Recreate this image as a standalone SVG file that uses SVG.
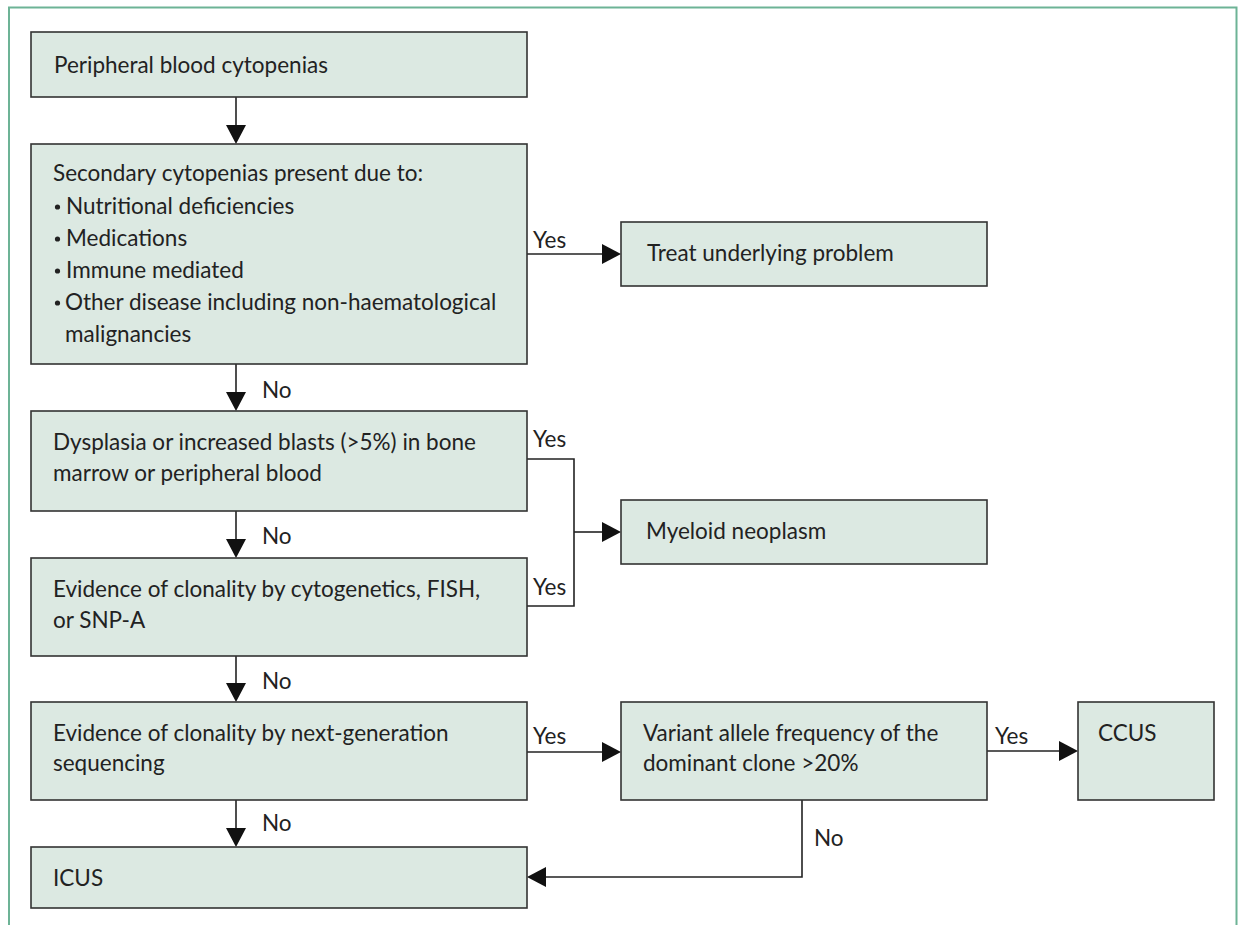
<svg xmlns="http://www.w3.org/2000/svg" width="1240" height="925" viewBox="0 0 1240 925">
<defs>
<style>
.box{fill:#dce9e2;stroke:#333;stroke-width:1.6}
.t{font-family:Lato,"Liberation Sans",sans-serif;font-size:22.5px;fill:#222}
.c{fill:none;stroke:#222;stroke-width:1.6}
.b{fill:#222}
</style>
</defs>
<rect x="0" y="0" width="1240" height="925" fill="#fff"/>
<path d="M9,925 V7.5 H1236.5 V925" fill="none" stroke="#6db396" stroke-width="2"/>

<g id="connectors">
<line class="c" x1="236" y1="97" x2="236" y2="130"/>
<line class="c" x1="236" y1="364" x2="236" y2="397"/>
<line class="c" x1="236" y1="511" x2="236" y2="544"/>
<line class="c" x1="236" y1="656" x2="236" y2="688"/>
<line class="c" x1="236" y1="800" x2="236" y2="833"/>
<path d="M226,125 L246,125 L236,144 Z M226,392 L246,392 L236,411 Z M226,539 L246,539 L236,558 Z M226,683 L246,683 L236,702 Z M226,828 L246,828 L236,847 Z" fill="#111"/>
<line class="c" x1="527" y1="254" x2="605" y2="254"/>
<path d="M602,244 L621,254 L602,264 Z" fill="#111"/>
<polyline class="c" points="527,459 574,459 574,606 527,606"/>
<line class="c" x1="574" y1="532" x2="605" y2="532"/>
<path d="M602,522 L621,532 L602,542 Z" fill="#111"/>
<line class="c" x1="527" y1="752" x2="605" y2="752"/>
<path d="M602,742 L621,752 L602,762 Z" fill="#111"/>
<line class="c" x1="987" y1="751" x2="1062" y2="751"/>
<path d="M1059,741 L1078,751 L1059,761 Z" fill="#111"/>
<polyline class="c" points="802,800 802,877 543,877"/>
<path d="M546,867 L527,877 L546,887 Z" fill="#111"/>
<text class="t" x="533" y="248">Yes</text>
<text class="t" x="533" y="447">Yes</text>
<text class="t" x="533" y="595">Yes</text>
<text class="t" x="533" y="744">Yes</text>
<text class="t" x="995" y="744">Yes</text>
<text class="t" x="262" y="398">No</text>
<text class="t" x="262" y="544">No</text>
<text class="t" x="262" y="689">No</text>
<text class="t" x="262" y="831">No</text>
<text class="t" x="814" y="846">No</text>
</g>

<g id="n1"><rect class="box" x="31" y="32" width="496" height="65"/><text class="t" x="54" y="73">Peripheral blood cytopenias</text></g>
<g id="n2"><rect class="box" x="31" y="144" width="496" height="220"/>
<text class="t" x="53" y="181">Secondary cytopenias present due to:</text>
<circle class="b" cx="57.5" cy="207" r="2.6"/>
<text class="t" x="66" y="214">Nutritional deficiencies</text>
<circle class="b" cx="57.5" cy="239" r="2.6"/>
<text class="t" x="66" y="246">Medications</text>
<circle class="b" cx="57.5" cy="271" r="2.6"/>
<text class="t" x="66" y="278">Immune mediated</text>
<circle class="b" cx="57.5" cy="303" r="2.6"/>
<text class="t" x="65" y="310">Other disease including non-haematological</text>
<text class="t" x="65" y="342">malignancies</text></g>
<g id="n3"><rect class="box" x="621" y="222" width="366" height="64"/><text class="t" x="647" y="261">Treat underlying problem</text></g>
<g id="n4"><rect class="box" x="31" y="411" width="496" height="100"/>
<text class="t" x="53" y="450">Dysplasia or increased blasts (&gt;5%) in bone</text>
<text class="t" x="53" y="481">marrow or peripheral blood</text></g>
<g id="n5"><rect class="box" x="621" y="500" width="366" height="64"/><text class="t" x="646" y="539">Myeloid neoplasm</text></g>
<g id="n6"><rect class="box" x="31" y="558" width="496" height="98"/>
<text class="t" x="53" y="597">Evidence of clonality by cytogenetics, FISH,</text>
<text class="t" x="53" y="628">or SNP-A</text></g>
<g id="n7"><rect class="box" x="31" y="702" width="496" height="98"/>
<text class="t" x="53" y="741">Evidence of clonality by next-generation</text>
<text class="t" x="53" y="771">sequencing</text></g>
<g id="n8"><rect class="box" x="621" y="702" width="366" height="98"/>
<text class="t" x="643" y="741">Variant allele frequency of the</text>
<text class="t" x="643" y="771">dominant clone &gt;20%</text></g>
<g id="n9"><rect class="box" x="1078" y="702" width="136" height="98"/><text class="t" x="1098" y="741">CCUS</text></g>
<g id="n10"><rect class="box" x="31" y="847" width="496" height="61"/><text class="t" x="53" y="886">ICUS</text></g>
</svg>
